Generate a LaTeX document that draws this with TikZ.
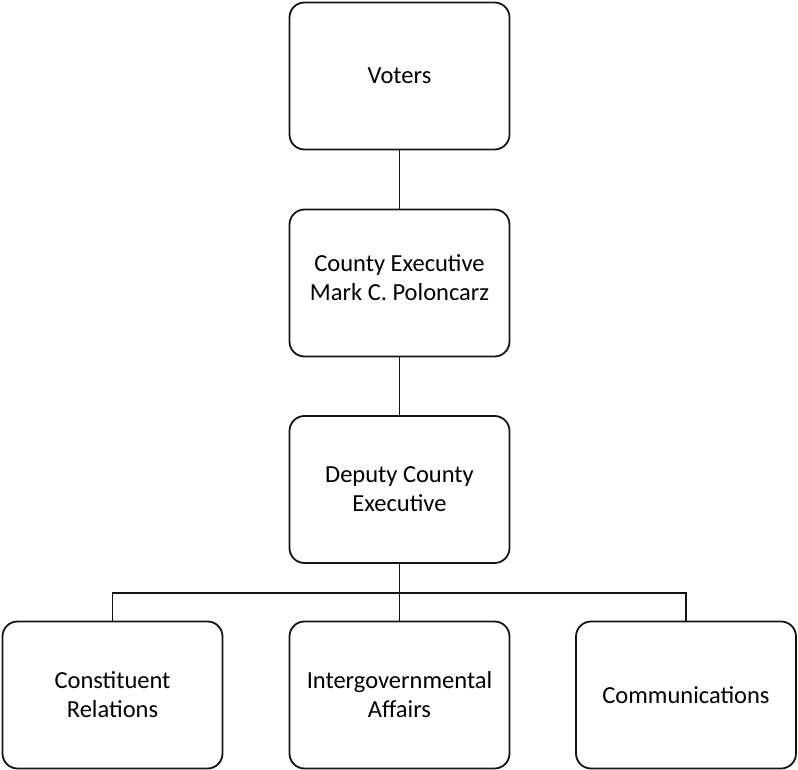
\documentclass[tikz,border=0pt]{standalone}
\usepackage{fontspec}
\setmainfont{Carlito}
\usepackage{xcolor}
\definecolor{boxline}{RGB}{20,20,20}

\begin{document}
\begin{tikzpicture}[x=1pt,y=-1pt,
    orgbox/.style={draw=boxline,line width=1.8pt,rounded corners=15pt,
        minimum width=220pt,minimum height=147pt,align=center,
        font=\fontsize{24.5}{29}\selectfont},
    link/.style={draw=boxline,line width=1.8pt}]
        % page
        \useasboundingbox (0,0) rectangle (798,770);

        % chain of command
        \node[orgbox] (voters) at (399.5,76) {Voters};
        \node[orgbox] (exec) at (399.5,283) {County Executive\\Mark C. Poloncarz\\[-19pt]};
        \node[orgbox] (deputy) at (399.5,489.5) {Deputy County\\Executive};

        % offices
        \node[orgbox] (constit) at (112.5,695) {Constituent\\Relations};
        \node[orgbox] (intergov) at (399.5,695) {Intergovernmental\\Affairs};
        \node[orgbox] (comms) at (686,695) {Communications};

        % connectors
        \path[link] (voters) -- (exec);
        \path[link] (exec) -- (deputy);
        \coordinate (bus) at (399.5,593);
        \path[link] (deputy) -- (intergov);
        \path[link] (constit.north) |- (bus) -| (comms.north);
    \end{tikzpicture}
\end{document}
